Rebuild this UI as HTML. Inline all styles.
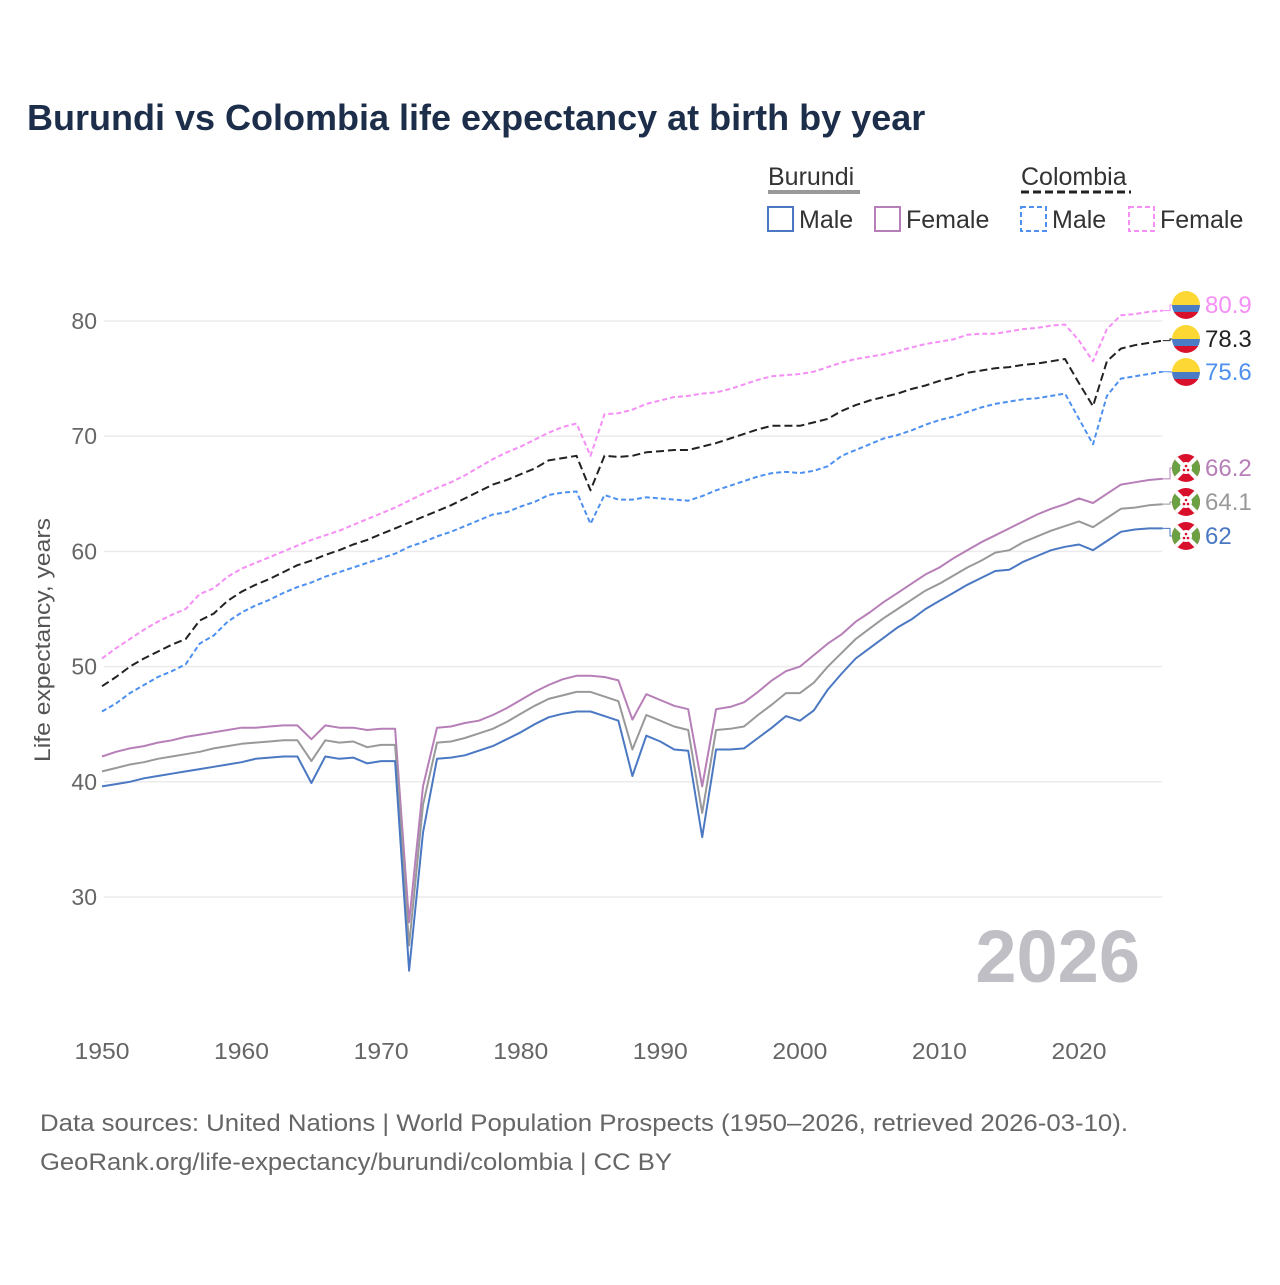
<!DOCTYPE html>
<html><head><meta charset="utf-8"><style>
body{margin:0;background:#fff;font-family:"Liberation Sans",sans-serif}
svg text{font-family:"Liberation Sans",sans-serif}
</style></head><body>
<svg id="chart" width="1280" height="1280" viewBox="0 0 1280 1280" xmlns="http://www.w3.org/2000/svg">
<defs>
<clipPath id="fc"><circle cx="0" cy="0" r="14"/></clipPath>
</defs>
<rect width="1280" height="1280" fill="#fff"/>
<text x="27" y="130" font-size="36" font-weight="bold" fill="#1c2e4a">Burundi vs Colombia life expectancy at birth by year</text>
<g font-size="25" fill="#333">
<text x="768" y="185" fill="#333">Burundi</text>
<line x1="768" y1="192" x2="860" y2="192" stroke="#999" stroke-width="4"/>
<text x="1021" y="185" fill="#333">Colombia</text>
<line x1="1021" y1="192" x2="1131" y2="192" stroke="#222" stroke-width="3" stroke-dasharray="8,4"/>
<g><rect x="768" y="207" width="25" height="24" fill="none" stroke="#4a78c2" stroke-width="2"/><text x="799" y="228">Male</text></g>
<g><rect x="875" y="207" width="25" height="24" fill="none" stroke="#b77fb7" stroke-width="2"/><text x="906" y="228">Female</text></g>
<g><rect x="1021" y="207" width="25" height="24" fill="none" stroke="#4d90f0" stroke-width="2" stroke-dasharray="5,3"/><text x="1052" y="228">Male</text></g>
<g><rect x="1129" y="207" width="25" height="24" fill="none" stroke="#f58ef5" stroke-width="2" stroke-dasharray="5,3"/><text x="1160" y="228">Female</text></g>
</g>
<g id="grid"></g>
<g id="axes"></g>
<text x="1140" y="982" font-size="74" font-weight="bold" fill="#c0bfc5" text-anchor="end">2026</text>
<text transform="translate(50,640) rotate(-90)" font-size="22" fill="#555" text-anchor="middle" textLength="244" lengthAdjust="spacingAndGlyphs">Life expectancy, years</text>
<g id="series"></g>
<g id="labels"></g>
<text x="40" y="1131" font-size="24" fill="#666" textLength="1088" lengthAdjust="spacingAndGlyphs">Data sources: United Nations | World Population Prospects (1950–2026, retrieved 2026-03-10).</text>
<text x="40" y="1170" font-size="24" fill="#666" textLength="632" lengthAdjust="spacingAndGlyphs">GeoRank.org/life-expectancy/burundi/colombia | CC BY</text>
</svg>
<script>
const startYear = 1950;
const xTicks = [1950,1960,1970,1980,1990,2000,2010,2020];
const yTicks = [30,40,50,60,70,80];
const colFemale = [50.7,51.6,52.4,53.2,53.9,54.5,55.0,56.3,56.8,57.8,58.5,59.0,59.5,60.0,60.5,61.0,61.4,61.8,62.3,62.8,63.3,63.8,64.4,65.0,65.5,66.0,66.6,67.3,68.0,68.6,69.1,69.7,70.3,70.8,71.1,68.3,71.9,72.0,72.3,72.8,73.1,73.4,73.5,73.7,73.8,74.1,74.5,74.9,75.2,75.3,75.4,75.6,76.0,76.4,76.7,76.9,77.1,77.4,77.7,78.0,78.2,78.4,78.8,78.9,78.9,79.1,79.3,79.4,79.6,79.7,78.3,76.5,79.3,80.5,80.6,80.8,80.9];
const colTotal = [48.3,49.1,50.0,50.7,51.3,51.9,52.4,54.0,54.6,55.7,56.5,57.1,57.6,58.2,58.8,59.2,59.7,60.1,60.6,61.0,61.5,62.0,62.5,63.0,63.5,64.0,64.6,65.2,65.8,66.2,66.7,67.2,67.9,68.1,68.3,65.3,68.3,68.2,68.3,68.6,68.7,68.8,68.8,69.1,69.4,69.8,70.2,70.6,70.9,70.9,70.9,71.2,71.5,72.2,72.7,73.1,73.4,73.7,74.1,74.4,74.8,75.1,75.5,75.7,75.9,76.0,76.2,76.3,76.5,76.7,74.6,72.6,76.5,77.6,77.9,78.1,78.3];
const colMale = [46.1,46.8,47.7,48.4,49.1,49.6,50.2,52.0,52.7,53.9,54.7,55.3,55.8,56.4,56.9,57.3,57.8,58.2,58.6,59.0,59.4,59.8,60.4,60.8,61.3,61.7,62.2,62.7,63.2,63.4,63.9,64.3,64.9,65.1,65.2,62.4,64.9,64.5,64.5,64.7,64.6,64.5,64.4,64.8,65.3,65.7,66.1,66.5,66.8,66.9,66.8,67.0,67.4,68.3,68.8,69.3,69.8,70.1,70.5,71.0,71.4,71.7,72.1,72.5,72.8,73.0,73.2,73.3,73.5,73.7,71.5,69.3,73.5,75.0,75.2,75.4,75.6];
const burMale = [39.6,39.8,40.0,40.3,40.5,40.7,40.9,41.1,41.3,41.5,41.7,42.0,42.1,42.2,42.2,39.9,42.2,42.0,42.1,41.6,41.8,41.8,23.6,35.6,42.0,42.1,42.3,42.7,43.1,43.7,44.3,45.0,45.6,45.9,46.1,46.1,45.7,45.3,40.5,44.0,43.5,42.8,42.7,35.2,42.8,42.8,42.9,43.8,44.7,45.7,45.3,46.2,48.0,49.4,50.7,51.6,52.5,53.4,54.1,55.0,55.7,56.4,57.1,57.7,58.3,58.4,59.1,59.6,60.1,60.4,60.6,60.1,60.9,61.7,61.9,62.0,62.0];
const burTotal = [40.9,41.2,41.5,41.7,42.0,42.2,42.4,42.6,42.9,43.1,43.3,43.4,43.5,43.6,43.6,41.8,43.6,43.4,43.5,43.0,43.2,43.2,25.8,38.0,43.4,43.5,43.8,44.2,44.6,45.2,45.9,46.6,47.2,47.5,47.8,47.8,47.4,47.0,42.8,45.8,45.3,44.8,44.5,37.3,44.5,44.6,44.8,45.8,46.7,47.7,47.7,48.6,50.0,51.2,52.4,53.3,54.2,55.0,55.8,56.6,57.2,57.9,58.6,59.2,59.9,60.1,60.8,61.3,61.8,62.2,62.6,62.1,62.9,63.7,63.8,64.0,64.1];
const burFemale = [42.2,42.6,42.9,43.1,43.4,43.6,43.9,44.1,44.3,44.5,44.7,44.7,44.8,44.9,44.9,43.7,44.9,44.7,44.7,44.5,44.6,44.6,27.8,39.6,44.7,44.8,45.1,45.3,45.8,46.4,47.1,47.8,48.4,48.9,49.2,49.2,49.1,48.8,45.4,47.6,47.1,46.6,46.3,39.6,46.3,46.5,46.9,47.8,48.8,49.6,50.0,51.0,52.0,52.8,53.9,54.7,55.6,56.4,57.2,58.0,58.6,59.4,60.1,60.8,61.4,62.0,62.6,63.2,63.7,64.1,64.6,64.2,65.0,65.8,66.0,66.2,66.3];
const seriesNames = ['colombia-female','colombia-total','colombia-male','burundi-female','burundi-total','burundi-male'];
const endLabels = ['80.9','78.3','75.6','66.2','64.1','62'];

const NS='http://www.w3.org/2000/svg';
const X0=102, XPY=(1079-102)/70, Y80=321, YPU=11.52;
function xS(yr){return X0+(yr-1950)*XPY;}
function yS(v){return Y80-(v-80)*YPU;}
function mk(tag,attrs,parent){const e=document.createElementNS(NS,tag);for(const k in attrs)e.setAttribute(k,attrs[k]);parent.appendChild(e);return e;}

const grid=document.getElementById('grid'), axes=document.getElementById('axes');
yTicks.forEach(v=>{
  const l=mk('line',{x1:104,x2:1162,y1:yS(v),y2:yS(v),stroke:'#ebebeb','stroke-width':1.5},grid);
  
  
  const t=mk('text',{x:97,y:yS(v)+8,'font-size':23,fill:'#666','text-anchor':'end'},axes);
  t.textContent=v;
  
  
});
xTicks.forEach(yr=>{
  const t=mk('text',{x:xS(yr),y:1059,'font-size':23,fill:'#666','text-anchor':'middle',textLength:55,lengthAdjust:'spacingAndGlyphs'},axes);
  t.textContent=yr;
  
  
});

const data=[colFemale,colTotal,colMale,burFemale,burTotal,burMale];
const colors=['#f58ef5','#222','#4d90f0','#b77fb7','#999','#4a78c2'];
const dashes=['5,3','8,4','5,3',null,null,null];
const labelY=[305,339,372,468,502,536];
const sg=document.getElementById('series'), lg=document.getElementById('labels');
data.forEach((arr,i)=>{
  const d=arr.map((v,j)=>(j?'L':'M')+xS(startYear+j).toFixed(1)+','+yS(v).toFixed(1)).join(' ');
  const p=mk('path',{d:d,fill:'none',stroke:colors[i],'stroke-width':2,'stroke-linejoin':'round'},sg);
  if(dashes[i])p.setAttribute('stroke-dasharray',dashes[i]);
  
  
  const ex=xS(startYear+arr.length-1), ey=yS(arr[arr.length-1]);
  const c=mk('path',{d:`M${ex},${ey} L1170,${ey} L1170,${labelY[i]} L1174,${labelY[i]}`,fill:'none',stroke:colors[i],'stroke-width':1},lg);
  
  
  const f=mk('g',{transform:`translate(1186,${labelY[i]})`},lg);
  
  
  const g=mk('g',{'clip-path':'url(#fc)'},f);
  if(i<3){
    mk('rect',{x:-14,y:-14,width:28,height:14,fill:'#fdd835'},g);
    mk('rect',{x:-14,y:0,width:28,height:7,fill:'#4a7cc6'},g);
    mk('rect',{x:-14,y:7,width:28,height:7,fill:'#d8102c'},g);
  }else{
    mk('rect',{x:-14,y:-14,width:28,height:28,fill:'#d8102c'},g);
    mk('path',{d:'M-14,-14 L0,0 L-14,14Z M14,-14 L0,0 L14,14Z',fill:'#6ba043'},g);
    mk('path',{d:'M-14,-14 L14,14 M14,-14 L-14,14',stroke:'#fff','stroke-width':4},g);
    mk('circle',{cx:0,cy:0,r:6,fill:'#fff'},g);
    mk('circle',{cx:0,cy:-2,r:1.3,fill:'#d8102c'},g);
    mk('circle',{cx:-2,cy:2,r:1.3,fill:'#d8102c'},g);
    mk('circle',{cx:2,cy:2,r:1.3,fill:'#d8102c'},g);
  }
  const t=mk('text',{x:1205,y:labelY[i]+8,'font-size':24,fill:colors[i]},lg);
  t.textContent=endLabels[i];
  
  
});
</script>
</body></html>
